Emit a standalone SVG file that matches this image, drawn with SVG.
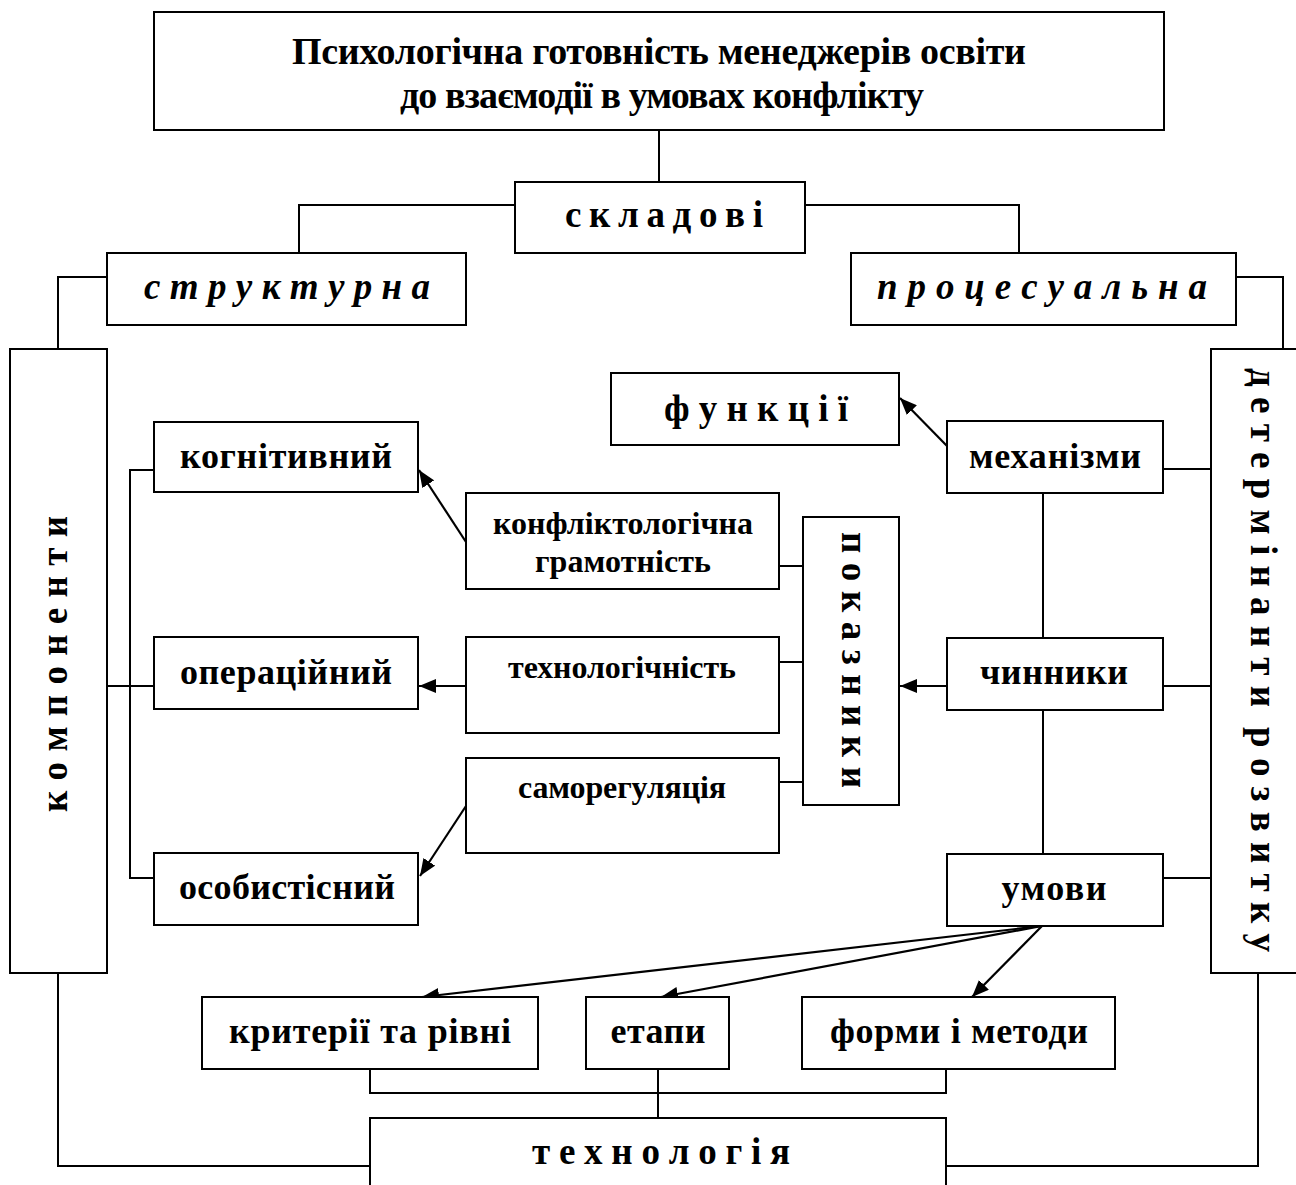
<svg xmlns="http://www.w3.org/2000/svg" width="1296" height="1185" viewBox="0 0 1296 1185">
<style>
  .box { fill: #fff; stroke: #000; stroke-width: 2; }
  .ln { fill: none; stroke: #000; stroke-width: 2; }
  .ar { fill: none; stroke: #000; stroke-width: 2.2; marker-end: url(#ah); }
  text { font-family: "Liberation Serif", "Times New Roman", serif; font-weight: bold; fill: #000; text-anchor: middle; }
  .ttl { font-size: 38px; }
  .big { font-size: 36px; }
  .mid { font-size: 32px; }
  .sp { font-size: 37px; }
  .it { font-style: italic; }
</style>
<defs>
  <marker id="ah" viewBox="0 0 17 14" refX="17" refY="7" markerWidth="17" markerHeight="14" markerUnits="userSpaceOnUse" orient="auto">
    <path d="M0,0 L17,7 L0,14 z" fill="#000"/>
  </marker>
</defs>
<rect width="1296" height="1185" fill="#fff"/>

<g id="connectors">
  <path class="ln" d="M659,130 V182"/>
  <path class="ln" d="M515,205 H299 V253"/>
  <path class="ln" d="M805,205 H1019 V253"/>
  <path class="ln" d="M107,277 H58 V349"/>
  <path class="ln" d="M1236,277 H1283 V349"/>
  <path class="ln" d="M154,470 H130 V878 H154"/>
  <path class="ln" d="M107,686 H154"/>
  <path class="ln" d="M779,566 H803"/>
  <path class="ln" d="M779,662 H803"/>
  <path class="ln" d="M779,782 H803"/>
  <path class="ln" d="M1043,493 V638"/>
  <path class="ln" d="M1043,710 V854"/>
  <path class="ln" d="M1163,469 H1211"/>
  <path class="ln" d="M1163,686 H1211"/>
  <path class="ln" d="M1163,878 H1211"/>
  <path class="ln" d="M370,1069 V1093 H946 V1069"/>
  <path class="ln" d="M658,1069 V1118"/>
  <path class="ln" d="M58,973 V1166 H370"/>
  <path class="ln" d="M1258,973 V1166 H946"/>
  <path class="ar" d="M947,446 L900,398"/>
  <path class="ar" d="M947,686 L900,686"/>
  <path class="ar" d="M466,542 L419,470"/>
  <path class="ar" d="M466,686 L419,686"/>
  <path class="ar" d="M466,806 L420,876"/>
  <path class="ar" d="M1042,926 L422,997"/>
  <path class="ar" d="M1042,926 L661,997"/>
  <path class="ar" d="M1042,926 L972,997"/>
</g>

<g id="title">
  <rect class="box" x="154" y="12" width="1010" height="118"/>
  <text class="ttl" x="659" y="64" textLength="734">Психологічна готовність менеджерів освіти</text>
  <text class="ttl" x="662" y="108" textLength="524">до взаємодії в умовах конфлікту</text>
</g>

<g id="skladovi">
  <rect class="box" x="515" y="182" width="290" height="71"/>
  <text class="sp" x="664" y="227" textLength="198">с к л а д о в і</text>
</g>

<g id="strukturna">
  <rect class="box" x="107" y="253" width="359" height="72"/>
  <text class="sp it" x="287" y="299" textLength="286">с т р у к т у р н а</text>
</g>

<g id="protsesualna">
  <rect class="box" x="851" y="253" width="385" height="72"/>
  <text class="sp it" x="1042" y="299" textLength="330">п р о ц е с у а л ь н а</text>
</g>

<g id="komponenty">
  <rect class="box" x="10" y="349" width="97" height="624"/>
  <text class="sp" transform="translate(67,664) rotate(-90)" textLength="296">к о м п о н е н т и</text>
</g>

<g id="determinanty">
  <rect class="box" x="1211" y="349" width="90" height="624"/>
  <text class="sp" xml:space="preserve" style="white-space:pre" transform="translate(1251,660) rotate(90)" textLength="584">д е т е р м і н а н т и  р о з в и т к у</text>
</g>

<g id="funktsii">
  <rect class="box" x="611" y="373" width="288" height="72"/>
  <text class="sp" x="756" y="421" textLength="184">ф у н к ц і ї</text>
</g>

<g id="kohnityvnyi">
  <rect class="box" x="154" y="422" width="264" height="70"/>
  <text class="big" x="286" y="468" textLength="212">когнітивний</text>
</g>

<g id="operatsiinyi">
  <rect class="box" x="154" y="637" width="264" height="72"/>
  <text class="big" x="286" y="684" textLength="212">операційний</text>
</g>

<g id="osobystisnyi">
  <rect class="box" x="154" y="853" width="264" height="72"/>
  <text class="big" x="287" y="899" textLength="216">особистісний</text>
</g>

<g id="konfliktolohichna">
  <rect class="box" x="466" y="493" width="313" height="96"/>
  <text class="mid" x="623" y="534" textLength="260">конфліктологічна</text>
  <text class="mid" x="623" y="572" textLength="176">грамотність</text>
</g>

<g id="tekhnolohichnist">
  <rect class="box" x="466" y="637" width="313" height="96"/>
  <text class="mid" x="622" y="678" textLength="228">технологічність</text>
</g>

<g id="samorehuliatsiia">
  <rect class="box" x="466" y="758" width="313" height="95"/>
  <text class="mid" x="622" y="798" textLength="208">саморегуляція</text>
</g>

<g id="pokaznyky">
  <rect class="box" x="803" y="517" width="96" height="288"/>
  <text class="sp" transform="translate(842,660) rotate(90)" textLength="256">п о к а з н и к и</text>
</g>

<g id="mekhanizmy">
  <rect class="box" x="947" y="421" width="216" height="72"/>
  <text class="big" x="1055" y="468" textLength="172">механізми</text>
</g>

<g id="chynnyky">
  <rect class="box" x="947" y="638" width="216" height="72"/>
  <text class="big" x="1054" y="684" textLength="148">чинники</text>
</g>

<g id="umovy">
  <rect class="box" x="947" y="854" width="216" height="72"/>
  <text class="big" x="1054" y="900" textLength="105">умови</text>
</g>

<g id="kryterii">
  <rect class="box" x="202" y="997" width="336" height="72"/>
  <text class="big" x="370" y="1043" textLength="282">критерії та рівні</text>
</g>

<g id="etapy">
  <rect class="box" x="586" y="997" width="143" height="72"/>
  <text class="big" x="658" y="1043" textLength="95">етапи</text>
</g>

<g id="formy">
  <rect class="box" x="802" y="997" width="313" height="72"/>
  <text class="big" x="959" y="1043" textLength="258">форми і методи</text>
</g>

<g id="tekhnolohiia">
  <rect class="box" x="370" y="1118" width="576" height="80"/>
  <text class="sp" x="661" y="1164" textLength="258">т е х н о л о г і я</text>
</g>
</svg>
